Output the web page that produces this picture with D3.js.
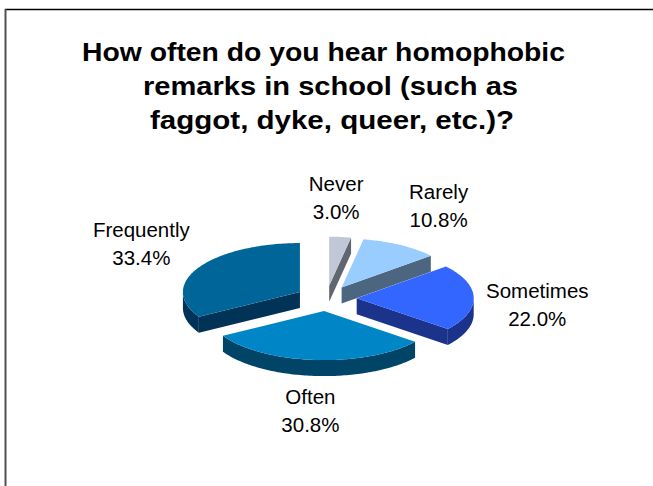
<!DOCTYPE html>
<html>
<head>
<meta charset="utf-8">
<script src="https://cdn.jsdelivr.net/npm/d3@7"></script>
<style>
  html, body { margin: 0; padding: 0; background: #fff; }
  svg { display: block; }
  text { font-family: "Liberation Sans", Arial, sans-serif; fill: #000; }
</style>
</head>
<body>
<svg id="chart" width="653" height="486"></svg>
<script>
// Survey answers, in clockwise order from 12 o'clock
const categories = ["Never", "Rarely", "Sometimes", "Often", "Frequently"];
const values = [3.0, 10.8, 22.0, 30.8, 33.4];
const titleLines = [
  "How often do you hear homophobic",
  "remarks in school (such as",
  "faggot, dyke, queer, etc.)?"
];

// Slice colours: top face and darker side walls
const topColors  = ["#C0C7D7", "#99CCFF", "#3366FF", "#0086C6", "#006699"];
const sideColors = ["#60656F", "#4C6680", "#1C338C", "#004468", "#003355"];

// Layout of the tilted pie
const W = 653, H = 486;
const cx = 326.3, cy = 298.4;   // centre of the un-exploded pie top
const rx = 117, ry = 49;        // ellipse radii of the top face
const depth = 16;               // thickness of the pie
const explode = 0.26;           // outward shift of each slice (fraction of radius)
const labelRx = 211, labelRy = 108;
const labelNudge = [[-10, 7], [6, 0], [0, 7], [0, 4], [-2, -1]];

const svg = d3.select("#chart");

// Frame lines
svg.append("line").attr("x1", 5).attr("x2", W).attr("y1", 9.5).attr("y2", 9.5)
  .attr("stroke", "#000").attr("stroke-width", 1.6);
svg.append("line").attr("x1", 5.5).attr("x2", 5.5).attr("y1", 9).attr("y2", H)
  .attr("stroke", "#505050").attr("stroke-width", 2);

// Title
const titleWidths = [483, 375, 364];
const titleCenters = [323.5, 330.5, 332];
svg.append("g").selectAll("text").data(titleLines).join("text")
  .attr("x", (d, i) => titleCenters[i])
  .attr("y", (d, i) => 61 + i * 34)
  .attr("text-anchor", "middle")
  .attr("font-size", 25)
  .attr("font-weight", "bold")
  .attr("textLength", (d, i) => titleWidths[i])
  .attr("lengthAdjust", "spacingAndGlyphs")
  .text(d => d);

const pie = d3.pie().sort(null).startAngle(0).endAngle(2 * Math.PI);
const arcs = pie(values).map((a, i) => {
  const mid = (a.startAngle + a.endAngle) / 2;
  return {
    ...a, i, mid,
    ox: explode * rx * Math.sin(mid),
    oy: -explode * ry * Math.cos(mid)
  };
});

// Projected point of the pie at angle t (clockwise from 12 o'clock), radius fraction r, drop z
function pt(a, t, r, z) {
  return [cx + a.ox + r * rx * Math.sin(t), cy + a.oy - r * ry * Math.cos(t) + z];
}
function rim(a, t0, t1, z) {
  const n = Math.max(2, Math.ceil(Math.abs(t1 - t0) / 0.02));
  return d3.range(n + 1).map(k => pt(a, t0 + (t1 - t0) * k / n, 1, z));
}
const line = d3.line();

const g = svg.append("g");
// Paint back slices first
const order = arcs.slice().sort((p, q) => (cy + p.oy) - (cy + q.oy));

order.forEach(a => {
  const sg = g.append("g");
  const t0 = a.startAngle, t1 = a.endAngle;
  const apex = pt(a, 0, 0, 0), apexB = pt(a, 0, 0, depth);

  // radial wall on the start edge (faces viewer when sin(t0) < 0)
  if (Math.sin(t0) < -1e-6) {
    sg.append("path").attr("d", line([apex, pt(a, t0, 1, 0), pt(a, t0, 1, depth), apexB]) + "Z")
      .attr("fill", sideColors[a.i]);
  }
  // radial wall on the end edge (faces viewer when sin(t1) > 0)
  if (Math.sin(t1) > 1e-6) {
    sg.append("path").attr("d", line([apex, pt(a, t1, 1, 0), pt(a, t1, 1, depth), apexB]) + "Z")
      .attr("fill", sideColors[a.i]);
  }
  // curved outer wall on the front half (pi/2 .. 3pi/2)
  const f0 = Math.max(t0, Math.PI / 2), f1 = Math.min(t1, 3 * Math.PI / 2);
  if (f1 > f0) {
    const top = rim(a, f0, f1, 0), bot = rim(a, f0, f1, depth).reverse();
    sg.append("path").attr("d", line(top.concat(bot)) + "Z")
      .attr("fill", sideColors[a.i]);
  }
  // top face
  sg.append("path").attr("d", line([apex].concat(rim(a, t0, t1, 0))) + "Z")
    .attr("fill", topColors[a.i]);
});

// Category and percentage labels
const fmt = d3.format(".1f");
const lg = svg.append("g").attr("font-size", 20.5);
arcs.forEach(a => {
  const x = cx + labelRx * Math.sin(a.mid) + labelNudge[a.i][0];
  const y = cy - labelRy * Math.cos(a.mid) + labelNudge[a.i][1];
  lg.append("text").attr("x", x).attr("y", y - 6.5).attr("text-anchor", "middle")
    .text(categories[a.i]);
  lg.append("text").attr("x", x).attr("y", y + 21.5).attr("text-anchor", "middle")
    .text(fmt(a.data) + "%");
});
</script>
</body>
</html>
